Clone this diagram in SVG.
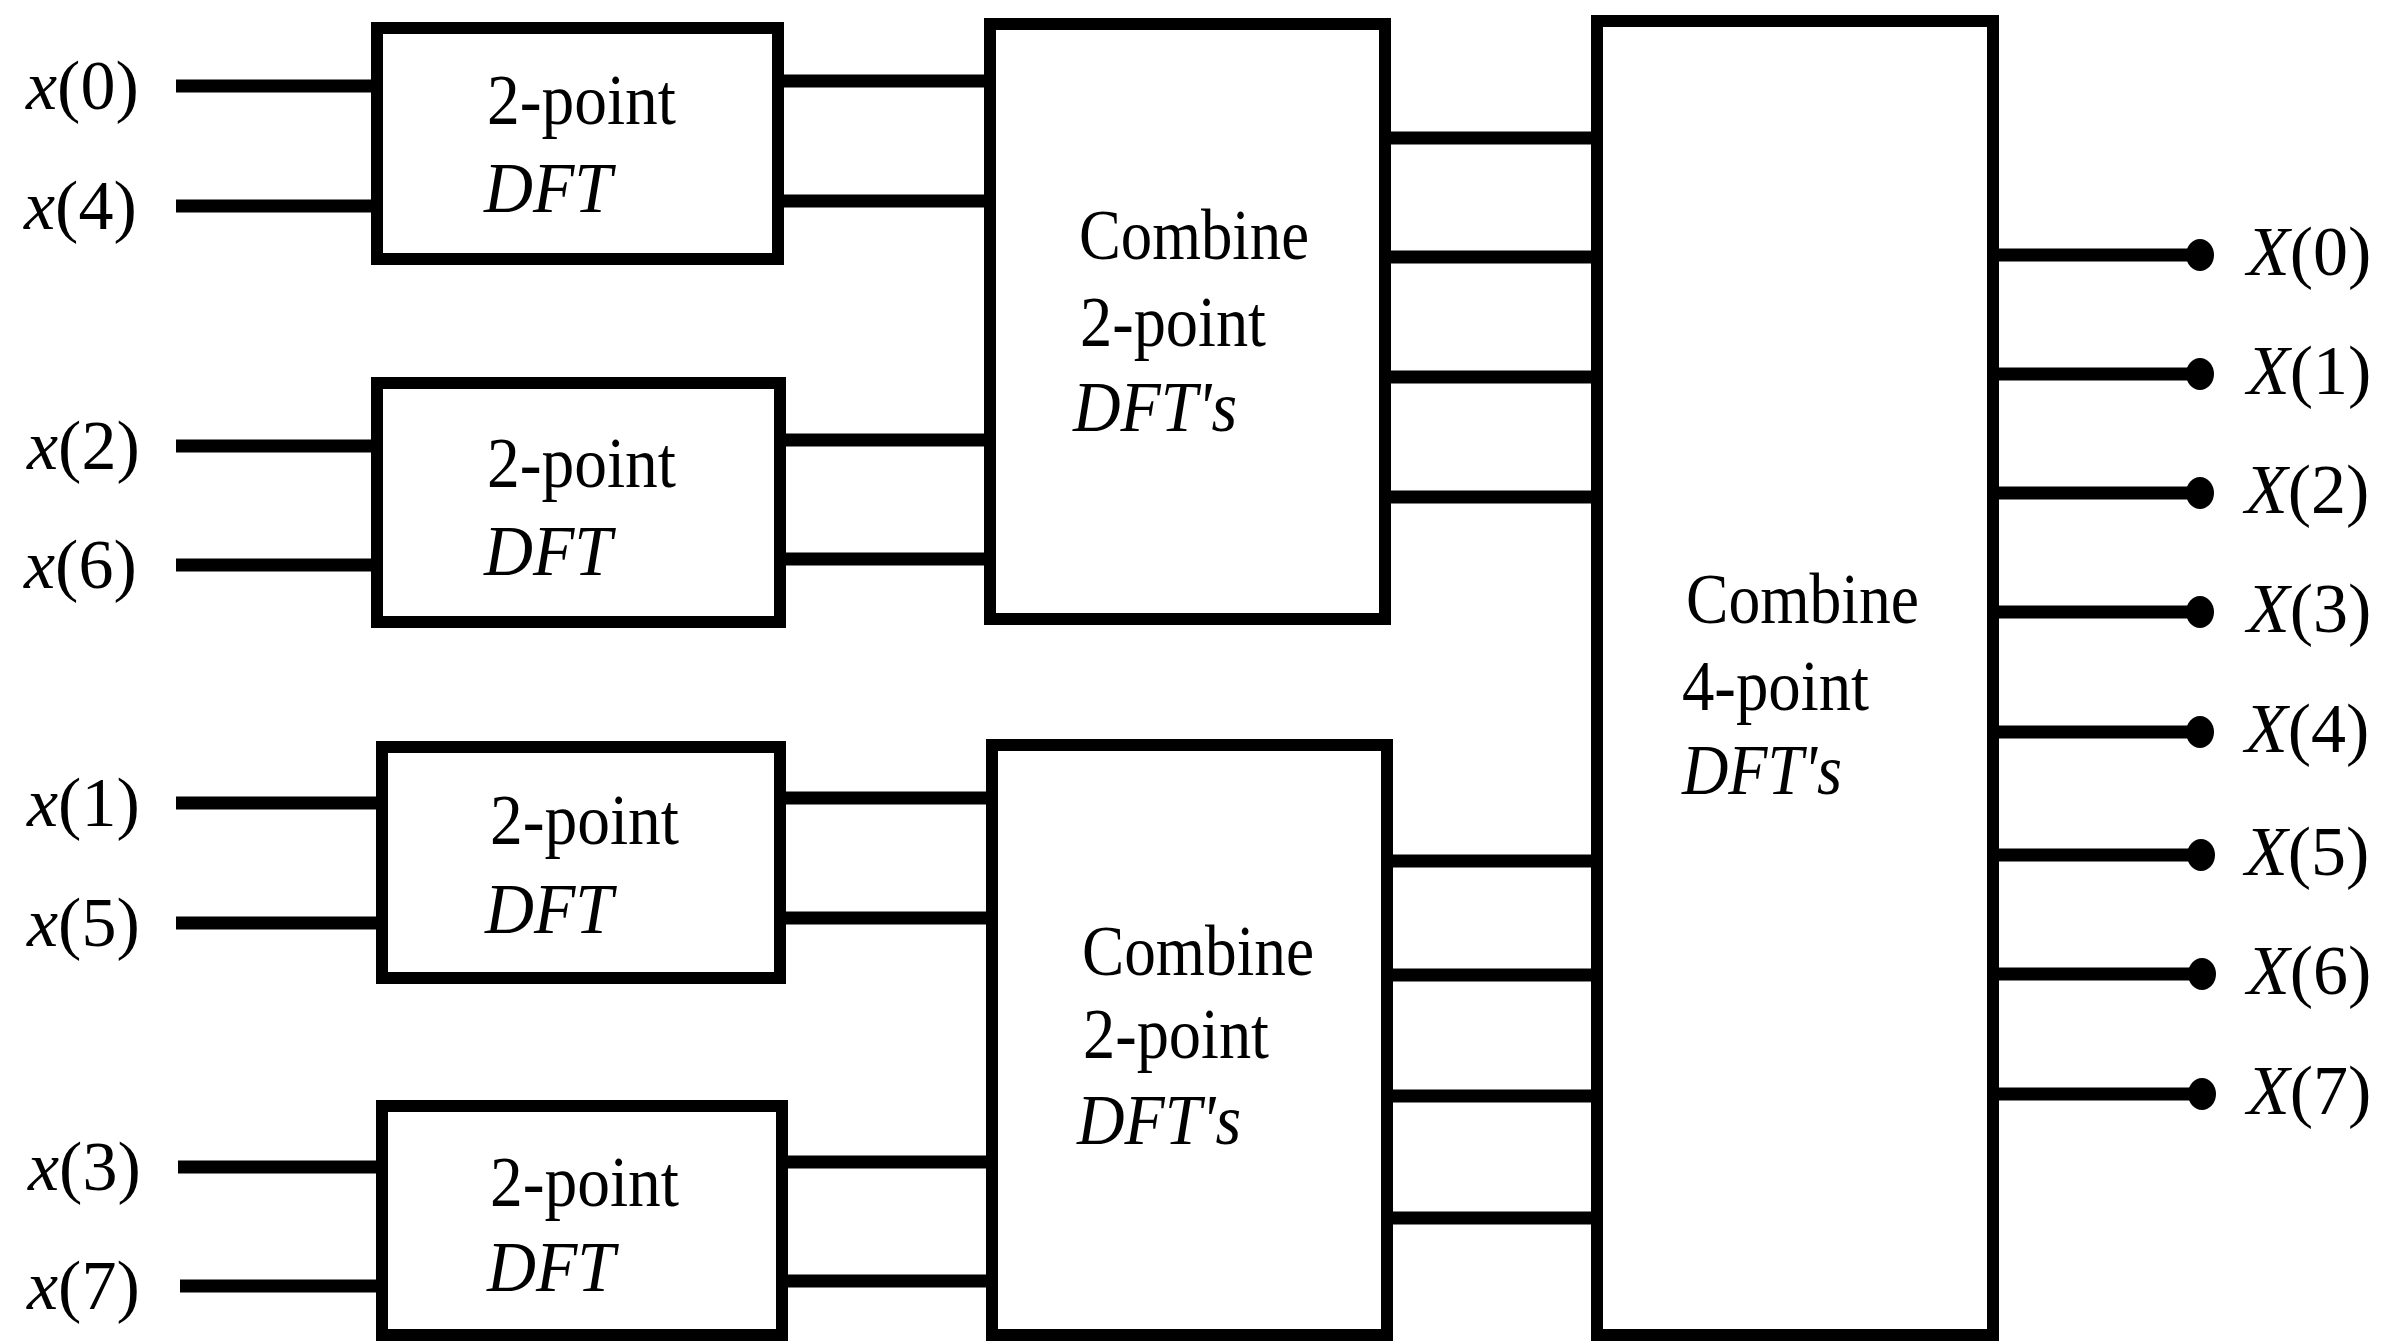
<svg xmlns="http://www.w3.org/2000/svg" width="2381" height="1342" viewBox="0 0 2381 1342">
<style>
.box{fill:none;stroke:#000;stroke-width:12}
.w{stroke:#000;stroke-width:13;fill:none}
.t{font-family:"Liberation Serif","Times New Roman",serif;font-size:72px;fill:#000}
.i{font-style:italic}
.lbl{font-family:"Liberation Serif","Times New Roman",serif;font-size:70px;fill:#000}
.dot{fill:#000}
</style>
<rect width="2381" height="1342" fill="#fff"/>
<g id="connectors">
  <line class="w" x1="176" y1="86" x2="376" y2="86"/>
  <line class="w" x1="176" y1="206" x2="376" y2="206"/>
  <line class="w" x1="176" y1="446" x2="376" y2="446"/>
  <line class="w" x1="176" y1="565" x2="376" y2="565"/>
  <line class="w" x1="176" y1="803" x2="381" y2="803"/>
  <line class="w" x1="176" y1="923" x2="381" y2="923"/>
  <line class="w" x1="178" y1="1167" x2="381" y2="1167"/>
  <line class="w" x1="180" y1="1286" x2="381" y2="1286"/>
  <line class="w" x1="779" y1="81" x2="989" y2="81"/>
  <line class="w" x1="779" y1="201" x2="989" y2="201"/>
  <line class="w" x1="781" y1="440" x2="989" y2="440"/>
  <line class="w" x1="781" y1="559" x2="989" y2="559"/>
  <line class="w" x1="781" y1="798" x2="991" y2="798"/>
  <line class="w" x1="781" y1="918" x2="991" y2="918"/>
  <line class="w" x1="783" y1="1162" x2="991" y2="1162"/>
  <line class="w" x1="783" y1="1281" x2="991" y2="1281"/>
  <line class="w" x1="1386" y1="138" x2="1596" y2="138"/>
  <line class="w" x1="1386" y1="257" x2="1596" y2="257"/>
  <line class="w" x1="1386" y1="377" x2="1596" y2="377"/>
  <line class="w" x1="1386" y1="497" x2="1596" y2="497"/>
  <line class="w" x1="1388" y1="861" x2="1596" y2="861"/>
  <line class="w" x1="1388" y1="975" x2="1596" y2="975"/>
  <line class="w" x1="1388" y1="1096" x2="1596" y2="1096"/>
  <line class="w" x1="1388" y1="1218" x2="1596" y2="1218"/>
  <line class="w" x1="1994" y1="255" x2="2200" y2="255"/>
  <line class="w" x1="1994" y1="374" x2="2200" y2="374"/>
  <line class="w" x1="1994" y1="493" x2="2200" y2="493"/>
  <line class="w" x1="1994" y1="612" x2="2200" y2="612"/>
  <line class="w" x1="1994" y1="732" x2="2200" y2="732"/>
  <line class="w" x1="1994" y1="855" x2="2201" y2="855"/>
  <line class="w" x1="1994" y1="974" x2="2202" y2="974"/>
  <line class="w" x1="1994" y1="1094" x2="2202" y2="1094"/>
  <ellipse class="dot" cx="2200" cy="255" rx="14" ry="16"/>
  <ellipse class="dot" cx="2200" cy="374" rx="14" ry="16"/>
  <ellipse class="dot" cx="2200" cy="493" rx="14" ry="16"/>
  <ellipse class="dot" cx="2200" cy="612" rx="14" ry="16"/>
  <ellipse class="dot" cx="2200" cy="732" rx="14" ry="16"/>
  <ellipse class="dot" cx="2201" cy="855" rx="14" ry="16"/>
  <ellipse class="dot" cx="2202" cy="974" rx="14" ry="16"/>
  <ellipse class="dot" cx="2202" cy="1094" rx="14" ry="16"/>
</g>
<g id="inputs">
  <text class="lbl" x="26" y="109"><tspan class="i">x</tspan>(0)</text>
  <text class="lbl" x="24" y="229"><tspan class="i">x</tspan>(4)</text>
  <text class="lbl" x="27" y="469"><tspan class="i">x</tspan>(2)</text>
  <text class="lbl" x="24" y="588"><tspan class="i">x</tspan>(6)</text>
  <text class="lbl" x="27" y="826"><tspan class="i">x</tspan>(1)</text>
  <text class="lbl" x="27" y="946"><tspan class="i">x</tspan>(5)</text>
  <text class="lbl" x="28" y="1190"><tspan class="i">x</tspan>(3)</text>
  <text class="lbl" x="27" y="1309"><tspan class="i">x</tspan>(7)</text>
</g>
<g id="outputs">
  <text class="lbl" x="2247" y="275"><tspan class="i">X</tspan>(0)</text>
  <text class="lbl" x="2247" y="394"><tspan class="i">X</tspan>(1)</text>
  <text class="lbl" x="2245" y="513"><tspan class="i">X</tspan>(2)</text>
  <text class="lbl" x="2247" y="632"><tspan class="i">X</tspan>(3)</text>
  <text class="lbl" x="2245" y="752"><tspan class="i">X</tspan>(4)</text>
  <text class="lbl" x="2245" y="875"><tspan class="i">X</tspan>(5)</text>
  <text class="lbl" x="2247" y="994"><tspan class="i">X</tspan>(6)</text>
  <text class="lbl" x="2247" y="1114"><tspan class="i">X</tspan>(7)</text>
</g>
<g id="dft2-a">
  <rect class="box" x="377" y="28" width="401" height="231"/>
  <text class="t" x="487" y="124" textLength="189" lengthAdjust="spacingAndGlyphs">2-point</text>
  <text class="t i" x="484" y="212" textLength="128" lengthAdjust="spacingAndGlyphs">DFT</text>
</g>
<g id="dft2-b">
  <rect class="box" x="377" y="383" width="403" height="239"/>
  <text class="t" x="487" y="487" textLength="189" lengthAdjust="spacingAndGlyphs">2-point</text>
  <text class="t i" x="484" y="575" textLength="128" lengthAdjust="spacingAndGlyphs">DFT</text>
</g>
<g id="dft2-c">
  <rect class="box" x="382" y="747" width="398" height="231"/>
  <text class="t" x="490" y="844" textLength="189" lengthAdjust="spacingAndGlyphs">2-point</text>
  <text class="t i" x="485" y="933" textLength="128" lengthAdjust="spacingAndGlyphs">DFT</text>
</g>
<g id="dft2-d">
  <rect class="box" x="382" y="1106" width="400" height="229"/>
  <text class="t" x="490" y="1206" textLength="189" lengthAdjust="spacingAndGlyphs">2-point</text>
  <text class="t i" x="487" y="1291" textLength="128" lengthAdjust="spacingAndGlyphs">DFT</text>
</g>
<g id="combine2-a">
  <rect class="box" x="990" y="24" width="395" height="595"/>
  <text class="t" x="1079" y="259" textLength="230" lengthAdjust="spacingAndGlyphs">Combine</text>
  <text class="t" x="1080" y="346" textLength="186" lengthAdjust="spacingAndGlyphs">2-point</text>
  <text class="t i" x="1073" y="431" textLength="164" lengthAdjust="spacingAndGlyphs">DFT's</text>
</g>
<g id="combine2-b">
  <rect class="box" x="992" y="745" width="395" height="590"/>
  <text class="t" x="1082" y="975" textLength="232" lengthAdjust="spacingAndGlyphs">Combine</text>
  <text class="t" x="1083" y="1058" textLength="186" lengthAdjust="spacingAndGlyphs">2-point</text>
  <text class="t i" x="1077" y="1144" textLength="164" lengthAdjust="spacingAndGlyphs">DFT's</text>
</g>
<g id="combine4">
  <rect class="box" x="1597" y="21" width="396" height="1314"/>
  <text class="t" x="1686" y="623" textLength="233" lengthAdjust="spacingAndGlyphs">Combine</text>
  <text class="t" x="1682" y="710" textLength="187" lengthAdjust="spacingAndGlyphs">4-point</text>
  <text class="t i" x="1682" y="794" textLength="160" lengthAdjust="spacingAndGlyphs">DFT's</text>
</g>
</svg>
